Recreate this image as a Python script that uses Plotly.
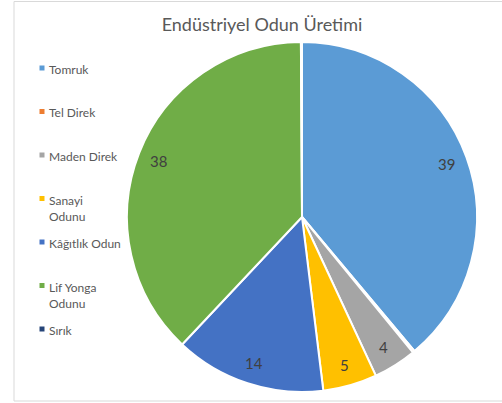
import math
import plotly.graph_objects as go

# Industrial wood production shares (%)
categories = ["Tomruk", "Tel Direk", "Maden Direk", "Sanayi Odunu",
              "Kâğıtlık Odun", "Lif Yonga Odunu", "Sırık"]
legend_text = ["Tomruk", "Tel Direk", "Maden Direk", "Sanayi<br>Odunu",
               "Kâğıtlık Odun", "Lif Yonga<br>Odunu", "Sırık"]
values = [39, 0.2, 4, 5, 14, 38, 0.1]
labels_shown = [True, False, True, True, True, True, False]
colors = ["#5B9BD5", "#ED7D31", "#A5A5A5", "#FFC000",
          "#4472C4", "#70AD47", "#264478"]

W, H = 502, 403
CX, CY, R = 302, 217, 175  # pie centre and radius in pixels

fig = go.Figure(go.Pie(
    labels=categories,
    values=values,
    sort=False,
    direction="clockwise",
    rotation=0,
    marker=dict(colors=colors, line=dict(color="white", width=2)),
    textinfo="none",
    hoverinfo="label+value",
    showlegend=False,
    domain=dict(x=[(CX - R) / W, (CX + R) / W],
                y=[1 - (CY + R) / H, 1 - (CY - R) / H]),
))

annotations = []

# value labels placed along each slice's bisector, near the rim
total = sum(values)
cum = 0.0
for v, show in zip(values, labels_shown):
    mid = (cum + v / 2) / total * 2 * math.pi
    cum += v
    if not show:
        continue
    rr = R * 0.88
    px = CX + rr * math.sin(mid)
    py = CY - rr * math.cos(mid)
    annotations.append(dict(
        x=px / W, y=1 - py / H, xref="paper", yref="paper",
        text=str(v), showarrow=False, xanchor="center", yanchor="middle",
        font=dict(family="Lato", size=15, color="#404040"),
    ))

# legend column on the left
shapes = [dict(type="rect", xref="paper", yref="paper",
               x0=14 / W, x1=1.02, y0=1 - 401 / H, y1=1 - 1.5 / H,
               line=dict(color="#D9D9D9", width=1), fillcolor="rgba(0,0,0,0)")]
for i, (txt, col) in enumerate(zip(legend_text, colors)):
    sy = 68 + 43.5 * i
    shapes.append(dict(type="rect", xref="paper", yref="paper",
                       x0=39.5 / W, x1=44.5 / W,
                       y0=1 - (sy + 2.5) / H, y1=1 - (sy - 2.5) / H,
                       line=dict(width=0), fillcolor=col))
    annotations.append(dict(
        x=47 / W, y=1 - (sy - 8) / H, xref="paper", yref="paper",
        text=txt, showarrow=False, xanchor="left", yanchor="top", align="left",
        font=dict(family="Lato", size=12, color="#595959"),
    ))

fig.update_layout(
    width=W, height=H,
    margin=dict(l=0, r=0, t=0, b=0),
    paper_bgcolor="white",
    title=dict(text="Endüstriyel Odun Üretimi", x=262 / W, y=1 - 25 / H,
               xanchor="center", yanchor="middle",
               font=dict(family="Lato", size=18, color="#595959")),
    annotations=annotations,
    shapes=shapes,
)

fig.write_html("out.html")
